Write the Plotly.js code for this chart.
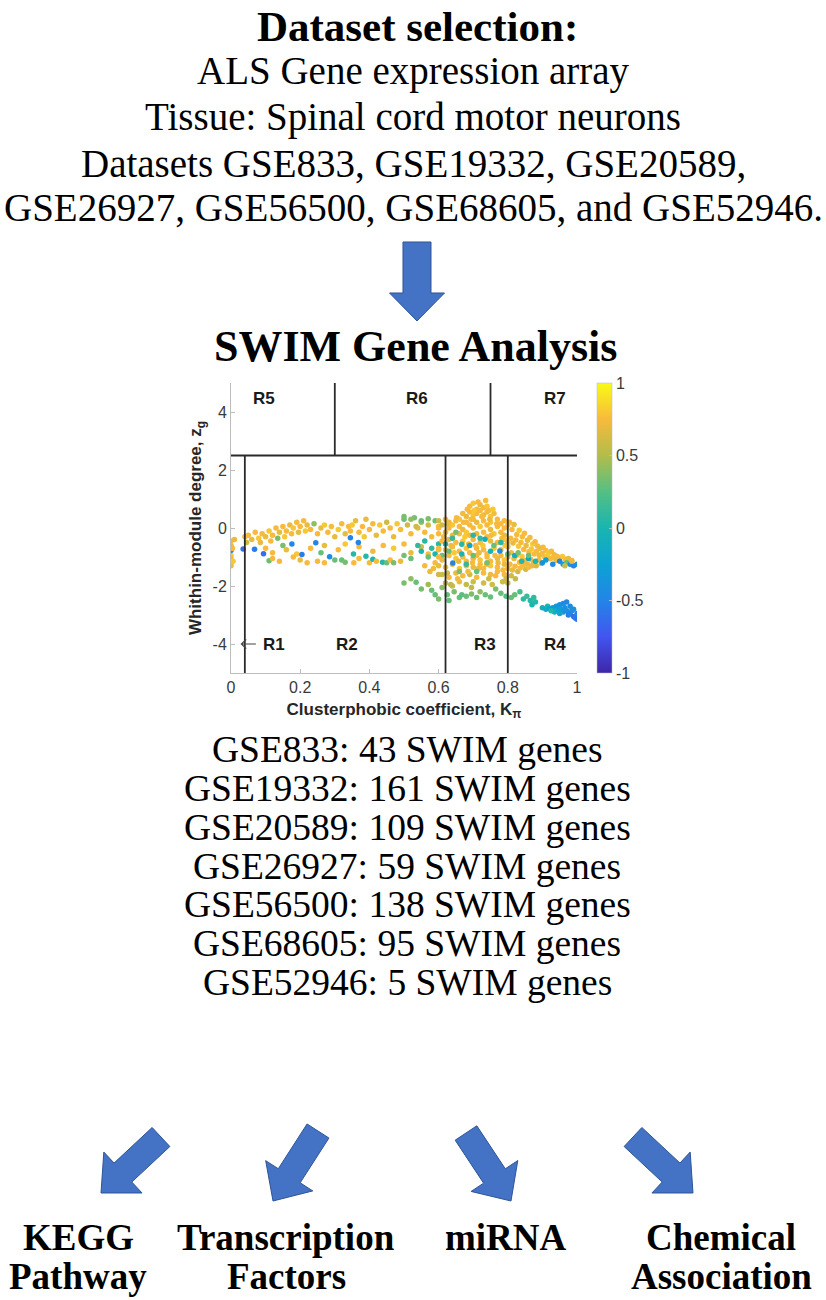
<!DOCTYPE html>
<html>
<head>
<meta charset="utf-8">
<script src="https://cdn.plot.ly/plotly-3.0.1.min.js"></script>
<style>html,body{margin:0;padding:0;background:#fff;}#chart{width:826px;height:1300px;}</style>
</head>
<body>
<div id="chart"></div>
<script>
// ---------------- DATA ----------------
// SWIM cartography points: [clusterphobic coefficient K_pi, within-module degree z_g, Pearson correlation]
const edgePoints = [
  [0,-0.45,0.75],[0,-0.6,0.7],[0,-0.95,0.8],[0,-1.05,0.75],[0,-1.2,0.8],[0,-1.3,0.7],[0,-0.78,-0.45],
  [0.004,-0.7,0.75],[0.006,-1.15,0.8],[0.01,-0.4,0.7],[0.035,-0.72,-0.6],[0.04,-0.3,0.75],[0.045,-0.5,0.6]
];
const r2UpperX = [0.05,0.06,0.07,0.08,0.085,0.09,0.1,0.11,0.115,0.12,0.13,0.135,0.14,0.15,0.155,0.16,0.17,0.175,0.18,0.19,0.195,0.2,0.21,0.215,0.22,0.23,0.24,0.25,0.26,0.27,0.28,0.29,0.3,0.31,0.32,0.33,0.34,0.345,0.35,0.36,0.37,0.38,0.385,0.39,0.4,0.41,0.42,0.43,0.44,0.45,0.46,0.47,0.48,0.49,0.5,0.51,0.52,0.53,0.54,0.55,0.56,0.57,0.58,0.59,0.6];
const r2UpperY = [-0.25,-0.4,-0.15,-0.35,-0.5,-0.2,-0.3,-0.1,-0.45,-0.25,0.0,-0.35,-0.15,0.05,-0.3,-0.1,0.1,-0.2,0.0,0.2,-0.15,0.05,0.25,-0.1,0.1,-0.05,0.15,-0.2,0.0,0.1,-0.15,0.05,-0.3,-0.05,0.15,-0.2,0.05,-0.1,0.1,0.25,-0.15,0.05,-0.3,0.3,-0.05,0.15,-0.25,0.1,-0.1,0.2,0.0,-0.3,0.15,-0.05,0.3,0.1,-0.2,0.35,0.0,0.2,-0.15,0.1,-0.3,0.25,0.0];
const r2UpperC = [0.75,0.7,0.75,0.8,0.7,0.75,0.7,0.8,0.75,0.75,0.75,0.35,0.7,0.75,0.8,0.75,0.7,0.75,0.8,0.75,0.7,0.75,0.75,0.8,0.7,0.75,0.4,0.75,0.7,0.8,0.75,0.75,0.7,0.8,0.75,0.7,0.75,0.75,0.8,0.7,0.75,0.75,0.8,0.7,0.75,0.75,0.7,0.8,0.75,0.6,0.75,0.7,0.8,0.75,0.3,0.6,0.75,0.35,0.7,0.45,0.75,0.6,0.75,0.3,0.75];
const r2MidX = [0.1,0.12,0.16,0.19,0.23,0.27,0.31,0.33,0.37,0.41,0.44,0.47,0.5,0.52,0.55,0.57,0.6];
const r2MidY = [-0.7,-0.85,-0.75,-0.9,-0.7,-0.6,-0.75,-0.55,-0.65,-0.8,-0.6,-0.7,-0.55,-0.85,-0.65,-0.9,-0.75];
const r2MidC = [0.75,0.75,0.7,0.8,0.75,0.7,0.75,0.8,0.75,0.7,0.75,0.8,0.75,0.7,0.6,0.75,0.75];
const r2LowerX = [0.068,0.094,0.11,0.12,0.14,0.15,0.176,0.18,0.2,0.205,0.22,0.245,0.25,0.26,0.27,0.285,0.3,0.32,0.33,0.345,0.354,0.355,0.368,0.37,0.39,0.4,0.41,0.42,0.438,0.45,0.46,0.47,0.49,0.5,0.52,0.54,0.55,0.56,0.57,0.58,0.59,0.6,0.61];
const r2LowerY = [-0.73,-0.89,-1.13,-1.05,-1.15,-0.6,-0.55,-1.0,-1.1,-0.91,-1.2,-0.51,-1.15,-0.85,-1.2,-0.99,-1.1,-1.1,-1.18,-0.34,-0.9,-1.2,-0.5,-1.05,-0.97,-1.2,-1.08,-1.15,-1.18,-1.2,-1.1,-1.2,-1.15,-0.95,-1.05,-0.6,-0.8,-0.45,-1.0,-0.7,-0.9,-0.55,-0.95];
const r2LowerC = [-0.55,-0.6,0.3,0.75,0.75,0.35,-0.5,0.75,0.7,-0.55,0.75,-0.5,0.75,0.3,0.75,-0.45,0.3,0.3,0.35,-0.5,0.05,0.75,-0.5,0.75,0.05,0.75,0.0,0.75,0.05,0.3,0.75,0.35,0.7,0.35,0.3,0.1,0.0,0.05,0.3,0.1,0.0,0.05,0.3];
const r2RightEdge = [
  [0.56,-1.3,0.75],[0.575,-1.5,0.7],[0.59,-1.2,0.75],[0.6,-1.6,0.6],[0.585,-1.4,0.75],
  [0.5,0.4,0.35],[0.52,0.3,0.4],[0.55,0.25,0.3],[0.57,0.32,0.35],[0.535,0.05,0.6]
];
const lowerArcX = [0.5,0.52,0.535,0.55,0.57,0.58,0.59,0.6,0.61,0.625,0.63,0.645,0.66,0.667,0.68,0.695,0.71,0.72,0.735,0.75,0.765,0.78,0.795,0.81,0.82,0.835,0.845,0.855,0.865,0.87,0.88,0.875];
const lowerArcY = [-1.9,-1.75,-1.87,-2.1,-1.95,-2.15,-2.3,-2.45,-2.05,-2.3,-2.5,-2.2,-2.4,-2.3,-2.35,-2.28,-2.4,-2.2,-2.3,-2.38,-2.1,-2.25,-2.35,-2.4,-2.3,-2.2,-2.45,-2.35,-2.5,-2.65,-2.55,-2.4];
const lowerArcC = [0.35,0.4,0.3,0.35,0.45,0.3,0.3,0.35,0.4,0.3,0.3,0.35,0.3,0.25,0.3,0.35,0.3,0.4,0.3,0.3,0.35,0.3,0.25,0.3,0.3,0.2,0.1,0.15,0.05,0.0,0.05,0.1];
const r4ClusterX = [0.9,0.91,0.915,0.92,0.93,0.935,0.94,0.945,0.95,0.955,0.96,0.96,0.965,0.97,0.97,0.975,0.98,0.98,0.985,0.99,0.99,0.995,1.0,1.0,0.925,0.95];
const r4ClusterY = [-2.75,-2.8,-2.7,-2.78,-2.75,-2.9,-2.7,-2.82,-2.65,-2.8,-2.6,-2.9,-2.75,-2.55,-2.85,-3.0,-2.7,-2.95,-2.85,-3.05,-2.8,-3.1,-3.15,-2.95,-2.85,-2.95];
const r4ClusterC = [-0.1,-0.15,0.0,-0.2,-0.3,-0.1,-0.35,-0.25,-0.4,-0.3,-0.45,-0.35,-0.4,-0.5,-0.4,-0.55,-0.45,-0.5,-0.45,-0.6,-0.4,-0.55,-0.6,-0.5,0.05,-0.2];
const r3Core = [
  [0.69,0.75,0.75],[0.70,0.85,0.8],[0.71,0.65,0.75],[0.72,0.80,0.7],[0.73,0.70,0.75],[0.74,0.75,0.8],[0.745,0.60,0.75],
  [0.67,0.50,0.75],[0.68,0.40,0.7],[0.69,0.55,0.75],[0.70,0.45,0.8],[0.71,0.50,0.75],[0.72,0.60,0.75],[0.73,0.45,0.7],[0.74,0.55,0.75],[0.75,0.40,0.8],[0.76,0.50,0.75],
  [0.60,0.25,0.6],[0.62,0.30,0.75],[0.63,0.20,0.7],[0.65,0.25,0.75],[0.66,0.30,0.8],[0.68,0.20,0.75],[0.70,0.30,0.75],[0.71,0.20,0.7],[0.73,0.25,0.75],[0.75,0.20,0.8],[0.77,0.30,0.75],[0.79,0.25,0.75],
  [0.60,0.05,0.75],[0.61,0.10,0.6],[0.63,0.00,0.75],[0.64,0.10,0.8],[0.66,0.05,0.75],[0.67,-0.05,0.7],[0.69,0.10,0.75],[0.70,0.00,0.75],[0.72,0.05,0.8],[0.74,0.10,0.75],[0.75,-0.05,0.7],[0.77,0.05,0.75],[0.78,0.15,0.75],[0.80,0.10,0.8],
  [0.60,-0.20,0.75],[0.62,-0.15,0.7],[0.64,-0.25,0.75],[0.66,-0.20,0.75],[0.68,-0.15,0.8],[0.69,-0.25,0.75],[0.71,-0.20,0.7],[0.73,-0.15,0.75],[0.74,-0.30,0.75],[0.76,-0.20,0.8],[0.78,-0.15,0.75],[0.79,-0.25,0.7],
  [0.61,-0.45,0.75],[0.63,-0.40,0.7],[0.65,-0.50,0.75],[0.67,-0.45,0.8],[0.70,-0.40,0.75],[0.72,-0.50,0.75],[0.75,-0.45,0.7],[0.77,-0.50,0.75],[0.79,-0.40,0.8],
  [0.60,-0.70,0.75],[0.62,-0.75,0.7],[0.64,-0.65,0.75],[0.66,-0.80,0.75],[0.68,-0.70,0.8],[0.69,-0.85,0.75],[0.71,-0.70,0.7],[0.73,-0.75,0.75],[0.74,-0.90,0.75],[0.76,-0.70,0.8],[0.78,-0.75,0.75],[0.80,-0.65,0.7],
  [0.60,-1.00,0.75],[0.61,-1.10,0.7],[0.63,-0.95,0.75],[0.65,-1.05,0.8],[0.67,-1.00,0.75],[0.68,-1.15,0.75],[0.70,-1.05,0.7],[0.71,-0.95,0.75],[0.72,-1.10,0.8],[0.74,-1.00,0.75],[0.75,-1.15,0.75],[0.77,-1.05,0.7],[0.78,-0.95,0.75],[0.79,-1.10,0.8],[0.80,-1.00,0.75],
  [0.60,-1.30,0.7],[0.62,-1.35,0.75],[0.64,-1.25,0.75],[0.66,-1.40,0.8],[0.68,-1.30,0.75],[0.70,-1.35,0.7],[0.72,-1.25,0.75],[0.73,-1.40,0.75],[0.75,-1.30,0.8],[0.77,-1.35,0.75],[0.79,-1.25,0.7],[0.80,-1.40,0.75],
  [0.61,-1.60,0.6],[0.63,-1.70,0.75],[0.65,-1.55,0.7],[0.67,-1.65,0.75],[0.69,-1.60,0.6],[0.71,-1.70,0.75],[0.73,-1.55,0.75],[0.75,-1.60,0.7],[0.77,-1.50,0.75],[0.79,-1.60,0.75],
  [0.62,-1.90,0.55],[0.64,-2.00,0.6],[0.66,-1.85,0.7],[0.68,-1.95,0.55],[0.70,-1.85,0.6],[0.73,-1.90,0.6]
];
const r3Fill = [
  [0.615,-0.3,0.75],[0.627,0.15,0.7],[0.636,-0.6,0.75],[0.645,-0.85,0.8],[0.652,0.35,0.75],[0.658,-1.15,0.7],[0.672,0.2,0.75],[0.676,-0.3,0.8],
  [0.683,0.65,0.75],[0.687,-0.55,0.7],[0.694,0.3,0.75],[0.698,-1.2,0.75],[0.703,0.6,0.8],[0.707,-0.6,0.75],[0.714,0.9,0.75],[0.717,-0.85,0.7],
  [0.725,0.4,0.75],[0.728,-0.6,0.8],[0.736,0.95,0.75],[0.739,-1.25,0.75],[0.748,0.3,0.7],[0.752,-0.25,0.75],[0.757,0.65,0.8],[0.763,-0.95,0.75],
  [0.768,0.15,0.75],[0.772,-1.2,0.7],[0.783,-0.35,0.75],[0.786,-1.45,0.75],[0.792,-0.6,0.8],[0.795,-1.75,0.6],[0.625,-1.55,0.6],[0.655,-1.75,0.75],
  [0.685,-1.5,0.75],[0.715,-1.4,0.7],[0.745,-1.75,0.6],[0.765,-1.65,0.75],[0.785,-1.85,0.6],[0.635,-1.95,0.55],[0.695,-2.05,0.55],[0.755,-1.95,0.6]
];
const r3Mixed = [
  [0.62,-0.55,0.0],[0.64,-0.35,0.1],[0.641,-1.21,-0.5],[0.667,-0.56,0.05],[0.667,-0.9,0.0],[0.69,-0.6,-0.2],[0.70,-0.95,0.3],
  [0.72,-0.35,0.1],[0.734,-0.39,-0.1],[0.75,-0.8,0.0],[0.777,-0.79,-0.45],[0.76,-0.6,0.3],[0.78,-0.5,0.05],[0.63,-0.8,0.3],
  [0.71,-1.5,0.3],[0.74,-1.2,0.35],[0.66,-1.5,0.35],[0.65,-0.15,0.35],[0.70,-0.25,0.05],[0.68,-1.25,0.1]
];
const tailPoints = [
  [0.805,0.2,0.75],[0.812,-0.05,0.75],[0.818,0.12,0.7],[0.826,-0.22,0.75],[0.833,-0.08,0.8],[0.842,-0.3,0.75],[0.848,-0.18,0.75],[0.857,-0.42,0.7],
  [0.864,-0.33,0.75],[0.872,-0.55,0.8],[0.879,-0.47,0.75],[0.886,-0.62,0.75],[0.894,-0.7,0.7],[0.902,-0.66,0.75],[0.91,-0.78,0.75],[0.918,-0.85,0.8],
  [0.926,-0.8,0.75],[0.934,-0.92,0.7],[0.942,-0.97,0.75],[0.951,-1.02,0.75],[0.958,-0.98,0.8],[0.967,-1.08,0.75],[0.975,-1.05,0.7],[0.985,-1.12,0.75],
  [0.808,-0.35,0.75],[0.815,-0.52,0.7],[0.823,-0.41,0.75],[0.831,-0.63,0.8],[0.838,-0.5,0.75],[0.846,-0.74,0.75],[0.853,-0.6,0.7],[0.861,-0.82,0.75],
  [0.868,-0.72,0.8],[0.876,-0.9,0.75],[0.883,-0.8,0.75],[0.891,-0.95,0.7],[0.899,-0.88,0.75],[0.907,-1.0,0.75],[0.915,-0.95,0.8],[0.923,-1.06,0.75],
  [0.931,-1.02,0.75],[0.94,-1.12,0.7],[0.948,-1.08,0.75],
  [0.81,-0.85,0.75],[0.818,-1.05,0.7],[0.825,-0.95,0.75],[0.834,-1.18,0.75],[0.841,-0.98,0.8],[0.85,-1.12,0.75],[0.857,-1.25,0.7],[0.866,-1.08,0.75],
  [0.874,-1.2,0.75],[0.882,-1.3,0.6],[0.89,-1.1,0.75],[0.897,-1.22,0.7],
  [0.806,-1.25,0.75],[0.813,-1.45,0.7],[0.821,-1.32,0.75],[0.829,-1.5,0.6],[0.836,-1.38,0.75],[0.844,-1.28,0.75],[0.852,-1.42,0.6],[0.86,-1.35,0.75],[0.87,-1.3,0.7],
  [0.81,-1.65,0.6],[0.822,-1.75,0.55],[0.80,-1.9,0.55],[0.79,0.0,0.75],[0.80,-0.5,0.75]
];
const tailMixed = [
  [0.82,-0.95,-0.1],[0.84,-1.15,0.05],[0.86,-1.05,-0.2],[0.88,-1.15,0.0],[0.90,-1.20,-0.4],[0.91,-1.10,-0.3],[0.93,-1.25,-0.45],[0.95,-1.15,-0.5],[0.96,-1.25,-0.3],
  [0.97,-1.20,0.3],[0.98,-1.25,-0.4],[0.99,-1.30,-0.5],[1.0,-1.25,-0.35],[0.965,-1.30,0.6],[0.985,-1.15,0.7],[0.83,-0.85,0.35],[0.86,-0.95,0.3],[0.80,-0.90,0.3]
];

// region boundaries of the SWIM heat cartography
const hubThreshold = 2.5;
const lowerBoundaries = [0.04, 0.62, 0.8];
const upperBoundaries = [0.3, 0.75];
const regionNames = ['R1','R2','R3','R4','R5','R6','R7'];
const regionLabelX = [0.125, 0.334, 0.734, 0.936, 0.095, 0.537, 0.936];
const regionLabelY = [-4, -4, -4, -4, 4.45, 4.45, 4.45];
const xTicks = [0, 0.2, 0.4, 0.6, 0.8, 1];
const yTicks = [-4, -2, 0, 2, 4];
const cbTicks = [-1, -0.5, 0, 0.5, 1];

// text content
const headerLines = [
  'ALS Gene expression array',
  'Tissue: Spinal cord motor neurons',
  'Datasets GSE833, GSE19332, GSE20589,',
  'GSE26927, GSE56500, GSE68605, and GSE52946.'
];
const datasetIds = ['GSE833','GSE19332','GSE20589','GSE26927','GSE56500','GSE68605','GSE52946'];
const swimGeneCounts = [43, 161, 109, 59, 138, 95, 5];
const analysisTopLines = ['KEGG','Transcription','miRNA','Chemical'];
const analysisBottomLines = ['Pathway','Factors','','Association'];

// ---------------- LAYOUT HELPERS ----------------
const W = 826, H = 1300;
const PX = v => v / W;
const PY = v => 1 - v / H;
const SERIF = 'Liberation Serif, Times New Roman, serif';
const SANS = 'Liberation Sans, Arial, Helvetica, sans-serif';

const parula = [
  [0.0,'#3E26A8'],[0.125,'#4255F0'],[0.25,'#2385E6'],[0.375,'#0DA2D4'],
  [0.5,'#19B5B0'],[0.625,'#55BF84'],[0.75,'#B2BD4A'],[0.875,'#F7BA3C'],[1.0,'#F9FB15']
];

function splitTriples(arr){ return {x: arr.map(p=>p[0]), y: arr.map(p=>p[1]), c: arr.map(p=>p[2])}; }
const groups = [
  splitTriples(edgePoints),
  {x: r2UpperX, y: r2UpperY, c: r2UpperC},
  {x: r2MidX, y: r2MidY, c: r2MidC},
  {x: r2LowerX, y: r2LowerY, c: r2LowerC},
  splitTriples(r2RightEdge),
  {x: lowerArcX, y: lowerArcY, c: lowerArcC},
  splitTriples(r3Core),
  splitTriples(r3Fill),
  splitTriples(tailPoints),
  splitTriples(r3Mixed),
  splitTriples(tailMixed),
  {x: r4ClusterX, y: r4ClusterY, c: r4ClusterC}
];
const traces = groups.map(g => ({
  type: 'scatter', mode: 'markers', x: g.x, y: g.y, hoverinfo: 'skip',
  marker: {color: g.c, coloraxis: 'coloraxis', size: 5.5, line: {width: 0}}
}));

// region boundary lines
const shapes = [];
const lineStyle = {color:'#2a2a2a', width:1.8};
shapes.push({type:'line', xref:'x', yref:'y', x0:0, x1:1, y0:hubThreshold, y1:hubThreshold, line:lineStyle});
lowerBoundaries.forEach(b => shapes.push({type:'line', xref:'x', yref:'y', x0:b, x1:b, y0:-5, y1:hubThreshold, line:lineStyle}));
upperBoundaries.forEach(b => shapes.push({type:'line', xref:'x', yref:'y', x0:b, x1:b, y0:hubThreshold, y1:5, line:lineStyle}));
// R1 pointer arrow (points at the K_pi = 0.04 boundary)
shapes.push({type:'path', xref:'x', yref:'y', path:'M 0.072 -4 L 0.03 -4 M 0.044 -3.84 L 0.03 -4 L 0.044 -4.16', line:{color:'#444', width:1.2}});

// block arrows (pixel geometry -> paper)
function arrowPath(tail, tip, sw, hw, hl){
  const dx = tip[0]-tail[0], dy = tip[1]-tail[1], L = Math.hypot(dx,dy);
  const ux = dx/L, uy = dy/L, nx = -uy, ny = ux;
  const bx = tip[0]-ux*hl, by = tip[1]-uy*hl;
  const pts = [
    [tail[0]+nx*sw/2, tail[1]+ny*sw/2],[bx+nx*sw/2, by+ny*sw/2],[bx+nx*hw/2, by+ny*hw/2],
    tip,[bx-nx*hw/2, by-ny*hw/2],[bx-nx*sw/2, by-ny*sw/2],[tail[0]-nx*sw/2, tail[1]-ny*sw/2]
  ];
  return 'M ' + pts.map(p => PX(p[0]).toFixed(5)+' '+PY(p[1]).toFixed(5)).join(' L ') + ' Z';
}
const arrowSpecs = [
  {tail:[417,242], tip:[417,321], sw:28, hw:55, hl:28},
  {tail:[161,1137], tip:[101,1193], sw:26, hw:56, hl:30},
  {tail:[318,1131], tip:[273,1201], sw:26, hw:56, hl:30},
  {tail:[466,1133], tip:[511,1201], sw:26, hw:56, hl:30},
  {tail:[633,1137], tip:[693,1193], sw:26, hw:56, hl:30}
];
arrowSpecs.forEach(a => shapes.push({
  type:'path', xref:'paper', yref:'paper', path: arrowPath(a.tail, a.tip, a.sw, a.hw, a.hl),
  fillcolor:'#4472C4', line:{color:'#2F5597', width:1}
}));

// annotations
const annotations = [];
function txt(text, x, y, size){
  annotations.push({text, xref:'paper', yref:'paper', x:PX(x), y:PY(y), xanchor:'center', yanchor:'middle',
    showarrow:false, font:{family:SERIF, size, color:'#000'}});
}
txt('<b>Dataset selection:</b>', 417, 26, 43);
const headerY = [71, 117, 163, 207];
headerLines.forEach((l,i) => txt(l, 413, headerY[i], 39));
txt('<b>SWIM Gene Analysis</b>', 415, 346, 44);
const countY = [750, 788.7, 827.4, 866.1, 904.8, 943.5, 982.2];
datasetIds.forEach((d,i) => txt(d + ': ' + swimGeneCounts[i] + ' SWIM genes', 407, countY[i], 37.5));
const analysisX = [78, 286, 506, 721];
analysisTopLines.forEach((l,i) => txt('<b>'+l+'</b>', analysisX[i], 1237, 37));
analysisBottomLines.forEach((l,i) => { if (l) txt('<b>'+l+'</b>', analysisX[i], 1276, 37); });

// region labels
regionNames.forEach((r,i) => annotations.push({text:'<b>'+r+'</b>', xref:'x', yref:'y', x:regionLabelX[i], y:regionLabelY[i],
  showarrow:false, xanchor:'center', yanchor:'middle', font:{family:SANS, size:17, color:'#1a1a1a'}}));

const axisCommon = {
  showgrid:false, zeroline:false, showline:true, linecolor:'#bdbdbd', linewidth:1,
  ticks:'inside', ticklen:4, tickcolor:'#bdbdbd', tickfont:{family:SANS, size:16, color:'#3a3a3a'},
  automargin:false
};

const layout = {
  width: W, height: H, margin:{l:0,r:0,t:0,b:0}, paper_bgcolor:'#fff', plot_bgcolor:'#fff', showlegend:false,
  xaxis: Object.assign({}, axisCommon, {
    domain:[231/W, 577/W], range:[0,1], tickvals:xTicks, ticktext:xTicks.map(String),
    title:{text:'<b>Clusterphobic coefficient, K<sub>π</sub></b>', font:{family:SANS, size:17, color:'#262626'}, standoff:7}
  }),
  yaxis: Object.assign({}, axisCommon, {
    domain:[1-673/H, 1-383/H], range:[-5,5], tickvals:yTicks, ticktext:yTicks.map(String),
    title:{text:'<b>Whithin-module degree, z<sub>g</sub></b>', font:{family:SANS, size:17, color:'#262626'}, standoff:6}
  }),
  coloraxis: {
    colorscale: parula, cmin:-1, cmax:1,
    colorbar: {x:597/W, xanchor:'left', y:1-528/H, yanchor:'middle', len:290, lenmode:'pixels',
      thickness:15, thicknessmode:'pixels', tickvals:cbTicks, ticktext:cbTicks.map(String),
      ticks:'inside', ticklen:3, tickcolor:'#bdbdbd', tickfont:{family:SANS, size:16, color:'#3a3a3a'},
      outlinewidth:0.5, outlinecolor:'#bdbdbd', xpad:0, ypad:0}
  },
  shapes, annotations
};

Plotly.newPlot('chart', traces, layout, {displayModeBar:false, staticPlot:true});
</script>
</body>
</html>
